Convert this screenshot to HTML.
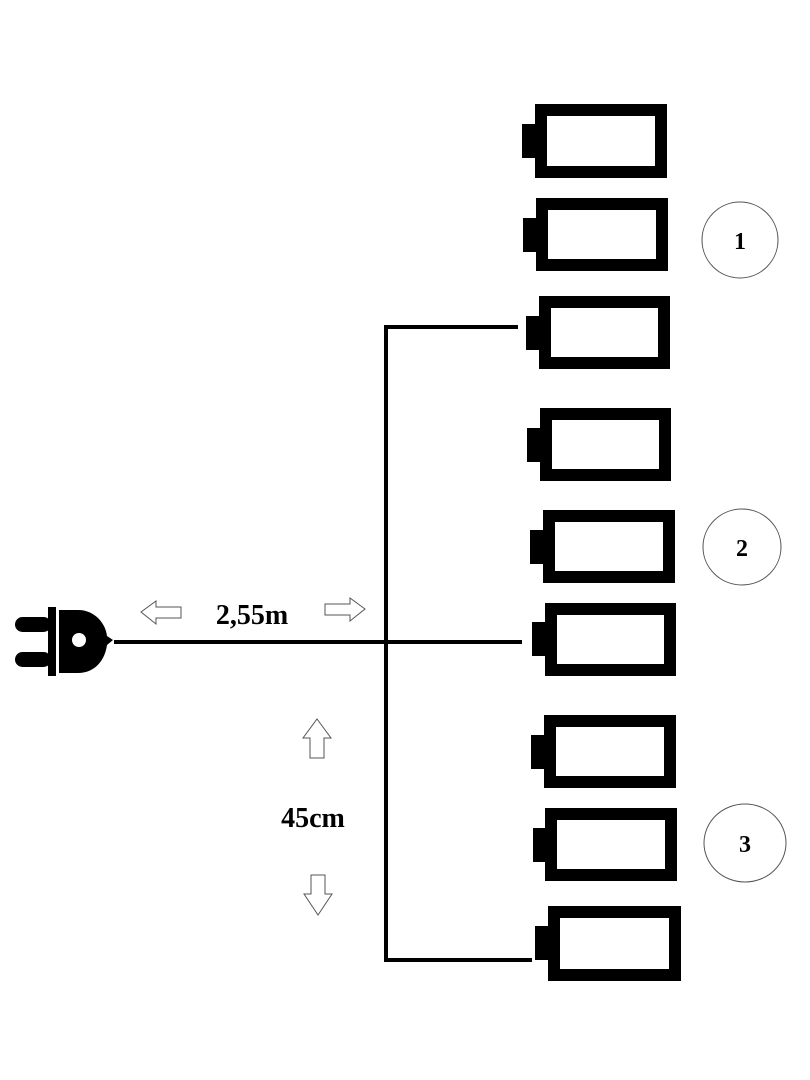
<!DOCTYPE html>
<html><head><meta charset="utf-8"><style>html,body{margin:0;padding:0;background:#fff}svg{display:block}</style></head>
<body>
<svg width="810" height="1080" viewBox="0 0 810 1080" xmlns="http://www.w3.org/2000/svg">
<rect width="810" height="1080" fill="#fff"/>
<g fill="none" stroke="#000" stroke-width="12">
<rect x="541" y="110" width="120" height="62"/>
<rect x="542" y="204" width="120" height="61"/>
<rect x="545" y="302" width="119" height="61"/>
<rect x="546" y="414" width="119" height="61"/>
<rect x="549" y="516" width="120" height="61"/>
<rect x="551" y="609" width="119" height="61"/>
<rect x="550" y="721" width="120" height="61"/>
<rect x="551" y="814" width="120" height="61"/>
<rect x="554" y="912" width="121" height="63"/>
</g>
<g fill="#000">
<rect x="522" y="124" width="14" height="34"/>
<rect x="523" y="218" width="14" height="34"/>
<rect x="526" y="316" width="14" height="34"/>
<rect x="527" y="428" width="14" height="34"/>
<rect x="530" y="530" width="14" height="34"/>
<rect x="532" y="622" width="14" height="34"/>
<rect x="531" y="735" width="14" height="34"/>
<rect x="533" y="828" width="14" height="34"/>
<rect x="535" y="926" width="14" height="34"/>
</g>
<g stroke="#000" stroke-width="4" fill="none" stroke-linecap="square">
<line x1="386" y1="327" x2="386" y2="960"/>
<line x1="386" y1="327" x2="516" y2="327"/>
<line x1="116" y1="642" x2="520" y2="642"/>
<line x1="386" y1="960" x2="530" y2="960"/>
</g>
<g fill="#000">
<rect x="15" y="617" width="36" height="15" rx="7.5"/>
<rect x="15" y="652" width="36" height="15" rx="7.5"/>
<rect x="48" y="607" width="8" height="69"/>
<path d="M59 610 H78 C96 610 106 625 107 636 L113 640 L107 645 C105 660 95 673 78 673 H59 Z"/>
</g>
<circle cx="79" cy="640" r="7" fill="#fff"/>
<g fill="#fff" stroke="#555" stroke-width="1">
<path d="M141 612 L156 601 V607 H181 V618 H156 V624 Z"/>
<path d="M365 609 L350 598 V604 H325 V615 H350 V621 Z"/>
<path d="M317 719 L331 738 H324 V758 H310 V738 H303 Z"/>
<path d="M318 915 L332 894 H325 V875 H311 V894 H304 Z"/>
</g>
<g fill="none" stroke="#555" stroke-width="1">
<ellipse cx="740" cy="240" rx="38" ry="38"/>
<ellipse cx="742" cy="547" rx="39" ry="38"/>
<ellipse cx="745" cy="843" rx="41" ry="39"/>
</g>
<g font-family="Liberation Serif, serif" font-weight="bold" fill="#000" text-anchor="middle">
<text x="252" y="624" font-size="28">2,55m</text>
<text x="313" y="827" font-size="28">45cm</text>
<text x="740" y="249" font-size="24">1</text>
<text x="742" y="556" font-size="24">2</text>
<text x="745" y="852" font-size="24">3</text>
</g>
</svg>
</body></html>
